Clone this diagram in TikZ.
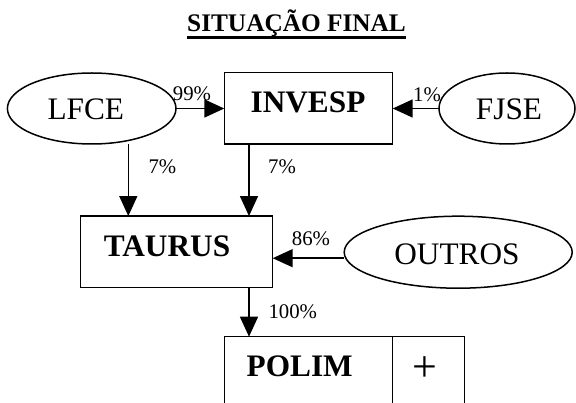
\documentclass[tikz,border=0pt]{standalone}
\usepackage{fontspec}
\setmainfont{Liberation Serif}
\usetikzlibrary{shapes.geometric,arrows.meta,calc}
\begin{document}
\begin{tikzpicture}[x=1pt,y=1pt,
  shapeline/.style={draw=black,line width=1.5pt,inner sep=0pt,outer sep=0pt},
  boxnode/.style={shapeline,rectangle},
  ovalnode/.style={shapeline,ellipse},
  bigtxt/.style={inner sep=0pt,anchor=base,font=\fontsize{31.3}{36}\selectfont},
  boldtxt/.style={inner sep=0pt,anchor=base,font=\fontsize{31.3}{36}\selectfont\bfseries},
  pcttxt/.style={inner sep=0pt,anchor=base west,font=\fontsize{20.8}{24}\selectfont},
  arr/.style={line width=1.5pt,-{Triangle[length=20pt,width=18pt]}}]
\clip (0,0) rectangle (576,-403);
\fill[white] (0,0) rectangle (576,-403);
% title
\node[inner sep=0pt,anchor=base,font=\fontsize{25.3}{30}\selectfont\bfseries] (title) at (296.5,-31.7) {SITUAÇÃO FINAL};
\draw[line width=2.6pt] ([yshift=-6pt]title.base west) -- ([yshift=-6pt]title.base east);
% shapes
\node[boxnode,minimum width=168.4pt,minimum height=71.7pt] (invesp) at (308.5,-108.2) {};
\node[ovalnode,minimum width=168.6pt,minimum height=71pt] (lfce) at (91.7,-108.5) {};
\node[ovalnode,minimum width=136pt,minimum height=71pt] (fjse) at (507,-108.5) {};
\node[boxnode,minimum width=192pt,minimum height=71.3pt] (taurus) at (176.7,-251.7) {};
\node[ovalnode,minimum width=228pt,minimum height=72pt] (outros) at (458.2,-252.2) {};
\node[boxnode,minimum width=168.4pt,minimum height=100pt] (polim) at (308.5,-386.7) {};
\node[boxnode,minimum width=71.8pt,minimum height=100pt,anchor=west] (plus) at (polim.east) {};
% texts
\node[bigtxt] (lfcet) at (85.8,-119.3) {LFCE};
\node[boldtxt] (invespt) at (308,-112.7) {INVESP};
\node[bigtxt] (fjset) at (509,-119.3) {FJSE};
\node[boldtxt] (taurust) at (167,-256.7) {TAURUS};
\node[bigtxt] (outrost) at (457,-265) {OUTROS};
\node[boldtxt] (polimt) at (299.7,-376.7) {POLIM};
\node[inner sep=0pt,anchor=base,font=\fontsize{44}{50}\selectfont] (plust) at (424.7,-381.7) {+};
% connectors
\draw[arr] (lfce.east) -- (lfce.east -| invesp.west);
\draw[arr] (fjse.west) -- (fjse.west -| invesp.east);
\coordinate (lfceout) at ($(lfce.south)+(36.6,0)$);
\draw[arr] (lfceout) -- (lfceout |- taurus.north);
\coordinate (invout) at ($(invesp.south)+(-59.5,0)$);
\draw[arr] (invout) -- (invout |- taurus.north);
\coordinate (outin) at ($(outros.west)+(0,-6)$);
\draw[arr] (outin) -- (outin -| taurus.east);
\coordinate (tauout) at ($(taurus.south)+(72.3,0)$);
\draw[arr] (tauout) -- (tauout |- polim.north);
% labels
\node[pcttxt] (p99) at (172.7,-101) {99\%};
\node[pcttxt] (p1) at (413,-101.7) {1\%};
\node[pcttxt] (p7a) at (148.3,-174) {7\%};
\node[pcttxt] (p7b) at (268,-174) {7\%};
\node[pcttxt] (p86) at (291.7,-245.7) {86\%};
\node[pcttxt] (p100) at (268.3,-318.3) {100\%};
\end{tikzpicture}
\end{document}
